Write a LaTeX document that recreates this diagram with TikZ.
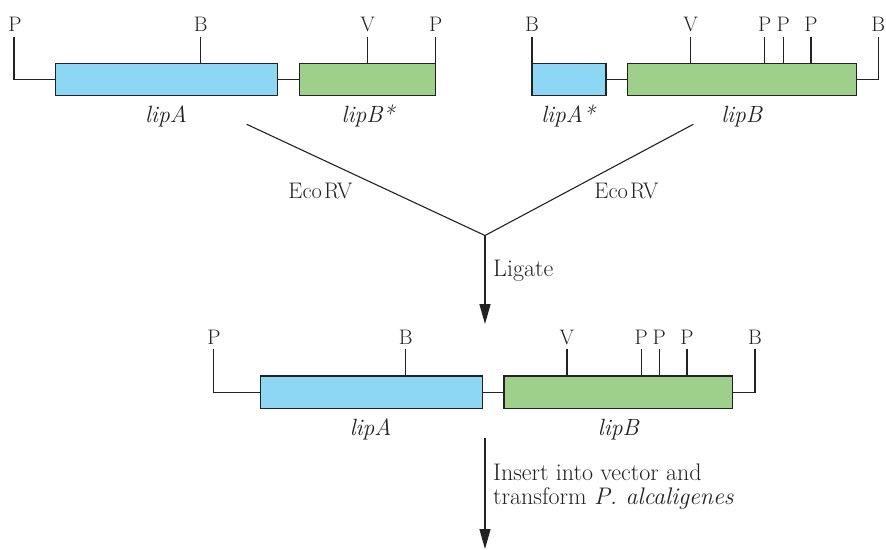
\documentclass[tikz,border=0pt]{standalone}
\usepackage{fontspec}
\usetikzlibrary{arrows.meta}
\definecolor{geneblue}{HTML}{8DD7F5}
\definecolor{genegreen}{HTML}{9FD08B}
\definecolor{inkline}{HTML}{222222}
\begin{document}
\begin{tikzpicture}[x=1pt,y=-1pt,
  box/.style={draw=inkline, line width=1.3pt, inner sep=0pt, outer sep=0pt, anchor=north west, minimum height=32.5pt},
  bluebox/.style={box, fill=geneblue},
  greenbox/.style={box, fill=genegreen},
  site/.style={font=\fontsize{21}{24}\selectfont, anchor=base, inner sep=0pt, text=inkline},
  gene/.style={font=\fontsize{23.5}{26}\selectfont\itshape, anchor=base, inner sep=0pt, text=inkline},
  steptext/.style={font=\fontsize{24}{24}\selectfont, anchor=base west, inner sep=0pt, text=inkline, align=left},
  dna/.style={line width=1.3pt, draw=inkline},
  thin/.style={line width=1.1pt, draw=inkline},
  arr/.style={line width=1.3pt, draw=inkline, -{Triangle[length=20pt,width=11pt]}},
]
\useasboundingbox (0,0) rectangle (886,549);

% ---------- top left construct ----------
\node[bluebox, minimum width=221.6pt] (A1) at (55.7,63.3) {};
\node[greenbox, minimum width=136.4pt] (B1) at (299.3,63.3) {};
\coordinate (L1top) at (14,37);
\draw[dna] (L1top) |- (A1.west);
\draw[dna] (A1.east) -- (B1.west);
\node[site] (s1) at (15,31.7) {P};
\node[site] (s2) at (200.7,31.7) {B};
\node[site] (s3) at (367.7,31.7) {V};
\node[site] (s4) at (435.7,31.7) {P};
\draw[dna] (200.7,37) -- (A1.north -| s2);
\draw[dna] (367.7,37) -- (B1.north -| s3);
\draw[dna] (435.7,37) -- (B1.north east);
\node[gene] (g1) at (166,122) {lipA};
\node[gene] (g2) at (368,122) {lipB*};

% ---------- top right construct ----------
\node[bluebox, minimum width=74pt] (A2) at (532,63.3) {};
\node[greenbox, minimum width=229pt] (B2) at (627.7,63.3) {};
\coordinate (R2top) at (878.3,37);
\draw[dna] (A2.east) -- (B2.west);
\draw[dna] (B2.east) -| (R2top);
\node[site] (t1) at (532,31.7) {B};
\node[site] (t2) at (690.7,31.7) {V};
\node[site] (t3) at (764.7,31.7) {P};
\node[site] (t4) at (783.3,31.7) {P};
\node[site] (t5) at (811,31.7) {P};
\node[site] (t6) at (878.3,31.7) {B};
\draw[dna] (532,37) -- (A2.north west);
\draw[dna] (690.7,37) -- (B2.north -| t2);
\draw[dna] (764.7,37) -- (B2.north -| t3);
\draw[dna] (783.3,37) -- (B2.north -| t4);
\draw[dna] (811,37) -- (B2.north -| t5);
\node[gene] (g3) at (568,122) {lipA*};
\node[gene] (g4) at (741.7,122) {lipB};

% ---------- joining V ----------
\coordinate (vl) at (246.7,124.3);
\coordinate (vr) at (693.3,124.3);
\coordinate (vj) at (485,235.5);
\draw[thin] (vl) -- (vj) -- (vr);
\node[site, font=\fontsize{22.5}{24}\selectfont] (e1) at (320.5,198.3) {Eco\kern2pt RV};
\node[site, font=\fontsize{22.5}{24}\selectfont] (e2) at (626.5,198.3) {Eco\kern2pt RV};
\coordinate (a1end) at (485,324);
\draw[arr] (vj) -- (a1end);
\node[steptext] (ligate) at (493,276) {Ligate};

% ---------- middle construct ----------
\node[bluebox, minimum width=222pt] (A3) at (260.3,376) {};
\node[greenbox, minimum width=228.7pt] (B3) at (504,376) {};
\coordinate (L3top) at (213.3,349.3);
\coordinate (R3top) at (755,349.3);
\draw[dna] (L3top) |- (A3.west);
\draw[dna] (A3.east) -- (B3.west);
\draw[dna] (B3.east) -| (R3top);
\node[site] (m1) at (214,344) {P};
\node[site] (m2) at (405.7,344) {B};
\node[site] (m3) at (567,344) {V};
\node[site] (m4) at (641.3,344) {P};
\node[site] (m5) at (659.3,344) {P};
\node[site] (m6) at (687,344) {P};
\node[site] (m7) at (755,344) {B};
\draw[dna] (405.7,349.3) -- (A3.north -| m2);
\draw[dna] (567,349.3) -- (B3.north -| m3);
\draw[dna] (641.3,349.3) -- (B3.north -| m4);
\draw[dna] (659.3,349.3) -- (B3.north -| m5);
\draw[dna] (687,349.3) -- (B3.north -| m6);
\node[gene] (g5) at (370.7,435) {lipA};
\node[gene] (g6) at (618.3,435) {lipB};

% ---------- final arrow ----------
\coordinate (a2start) at (485,438);
\coordinate (a2end) at (485,549);
\draw[arr] (a2start) -- (a2end);
\node[steptext] (insert1) at (493,480) {Insert into vector and};
\node[steptext] (insert2) at (493,504) {transform \textit{P. alcaligenes}};
\end{tikzpicture}
\end{document}
